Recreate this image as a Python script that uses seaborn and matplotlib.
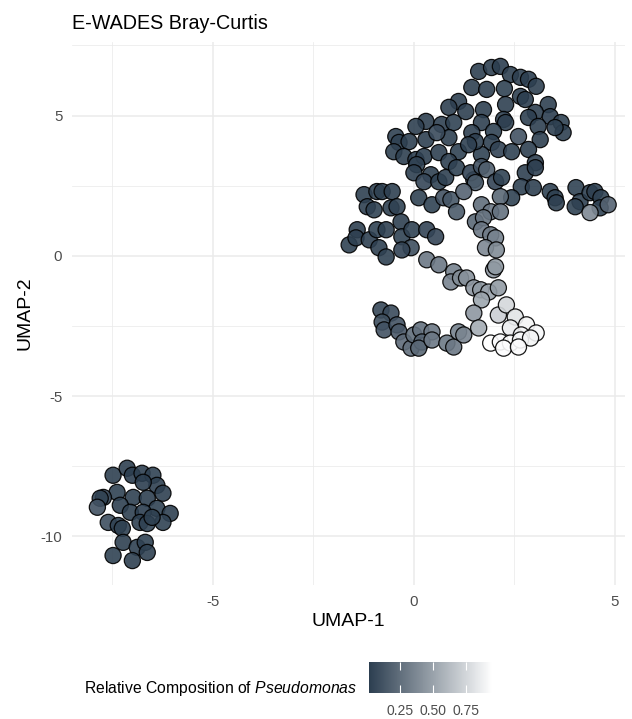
import numpy as np
import pandas as pd
import matplotlib
matplotlib.use('Agg')
import matplotlib.pyplot as plt
import seaborn as sns
from matplotlib.colors import LinearSegmentedColormap, Normalize
from matplotlib.cm import ScalarMappable

# UMAP coordinates and relative composition of Pseudomonas
# small cluster, lower left
umap1_left = [-7.48, -7.13, -7.00, -6.76, -6.49, -6.39, -6.24, -6.73, -7.38, -7.72,
              -7.80, -7.87, -6.98, -6.63, -6.39, -6.06, -6.24, -7.30, -7.05, -6.73,
              -7.60, -7.35, -7.25, -6.81, -6.63, -7.23, -6.88, -6.68, -6.63, -7.48,
              -7.00, -6.51]
umap2_left = [-7.82, -7.57, -7.82, -7.75, -7.82, -8.18, -8.46, -8.07, -8.43, -8.61,
              -8.64, -8.96, -8.61, -8.64, -9.00, -9.18, -9.50, -8.89, -9.14, -9.14,
              -9.50, -9.61, -9.71, -9.50, -9.54, -10.21, -10.39, -10.21, -10.57, -10.68,
              -10.86, -9.32]
comp_left = [0.03, 0.03, 0.02, 0.03, 0.04, 0.03, 0.03, 0.02, 0.04, 0.05,
             0.04, 0.12, 0.03, 0.03, 0.04, 0.03, 0.04, 0.03, 0.03, 0.02,
             0.10, 0.04, 0.03, 0.03, 0.04, 0.03, 0.03, 0.04, 0.03, 0.04,
             0.03, 0.03]

# big cluster, upper right
umap1_main = [1.61, 1.93, 2.15, 2.40, 2.65, 2.85, 3.04, 1.44, 1.81, 2.25,
              2.65, 2.77, 3.34, 2.28, 1.73, 3.02, 2.85, 3.39, 3.66, 3.71,
              3.09, 3.51, 2.23, 2.28, 1.68, 1.98, 1.44, 2.60, 3.14, 1.93,
              2.10, 2.43, 2.85, 1.68, 1.53, 3.02,
              1.11, 0.87, 1.29, 0.30, 0.05, 0.69, 0.99, -0.45, -0.37, -0.12,
              0.30, 0.87, 0.57, -0.50, -0.25, 0.05, 0.25, 0.62, 1.11, 1.36,
              0.87,
              0.07, 0.00, 0.42, 0.25, 0.62, 0.79, 1.06, 1.49, 1.41, 1.68,
              1.81, 1.53, 2.03, 2.18, 2.77, 3.02, 2.67, 2.97, 3.39, 3.51,
              3.54, 2.43, 2.15, 1.68, 1.91, 2.15, 1.53, 1.73, 1.68, 1.91,
              2.03, 1.78, 2.05,
              4.03, 4.13, 4.01, 4.38, 4.50, 4.65, 4.63, 4.83, 4.38,
              -1.24, -0.92, -0.79, -0.54, -1.16, -0.99, -0.57, -0.42, -0.32, 0.12,
              0.45, 0.74, 0.92, 1.06, 1.24,
              -1.41, -1.61, -1.44, -1.11, -0.92, -0.69, -0.87, -0.30, -0.05, 0.32,
              0.54, -0.07, -0.30, -0.69]
umap2_main = [6.57, 6.71, 6.75, 6.46, 6.36, 6.29, 6.04, 6.00, 5.93, 5.96,
              5.68, 5.57, 5.39, 5.39, 5.21, 5.11, 4.93, 4.96, 4.75, 4.39,
              4.61, 4.57, 4.86, 4.75, 4.75, 4.43, 4.39, 4.25, 4.14, 4.04,
              3.79, 3.71, 3.79, 3.61, 4.07, 3.32,
              5.50, 5.29, 5.14, 4.79, 4.61, 4.68, 4.75, 4.25, 4.04, 4.07,
              4.14, 4.21, 4.39, 3.71, 3.54, 3.43, 3.54, 3.68, 3.71, 3.96,
              3.36,
              3.25, 2.96, 2.89, 2.64, 2.64, 2.79, 3.14, 2.71, 2.96, 3.18,
              3.07, 2.61, 2.64, 2.79, 2.96, 3.14, 2.46, 2.43, 2.29, 2.07,
              1.89, 2.07, 2.11, 1.82, 1.57, 1.57, 1.21, 1.36, 0.93, 0.75,
              0.64, 0.29, 0.21,
              2.43, 1.93, 1.75, 2.25, 2.29, 2.07, 1.71, 1.82, 1.54,
              2.18, 2.29, 2.29, 2.29, 1.75, 1.64, 1.71, 1.75, 1.21, 2.07,
              1.82, 2.07, 2.00, 1.57, 2.29,
              0.93, 0.39, 0.64, 0.57, 0.93, 0.93, 0.29, 0.68, 0.93, 0.93,
              0.68, 0.29, 0.21, -0.04]
comp_main = [0.03, 0.03, 0.02, 0.03, 0.03, 0.02, 0.03, 0.03, 0.03, 0.04,
             0.03, 0.02, 0.03, 0.03, 0.03, 0.03, 0.03, 0.02, 0.04, 0.03,
             0.03, 0.03, 0.03, 0.03, 0.03, 0.04, 0.03, 0.12, 0.03, 0.03,
             0.05, 0.04, 0.03, 0.04, 0.03, 0.03,
             0.03, 0.03, 0.03, 0.03, 0.03, 0.03, 0.04, 0.03, 0.04, 0.03,
             0.03, 0.03, 0.08, 0.04, 0.03, 0.03, 0.03, 0.03, 0.04, 0.03,
             0.03,
             0.04, 0.03, 0.03, 0.06, 0.04, 0.03, 0.04, 0.10, 0.05, 0.12,
             0.18, 0.16, 0.05, 0.04, 0.03, 0.03, 0.04, 0.03, 0.04, 0.03,
             0.03, 0.04, 0.22, 0.25, 0.30, 0.27, 0.22, 0.28, 0.30, 0.32,
             0.35, 0.38, 0.40,
             0.04, 0.03, 0.04, 0.03, 0.03, 0.04, 0.04, 0.20, 0.38,
             0.03, 0.04, 0.03, 0.03, 0.03, 0.04, 0.03, 0.04, 0.03, 0.04,
             0.04, 0.12, 0.14, 0.16, 0.20,
             0.03, 0.04, 0.03, 0.03, 0.04, 0.03, 0.03, 0.04, 0.04, 0.05,
             0.06, 0.10, 0.05, 0.04]

# arc and lighter group below
umap1_low = [0.32, 0.62, 0.99, 0.92, 1.16, 1.31, 1.49, 1.66, 1.86, 2.10,
             1.68, 1.98, 2.03, 1.49, 1.61, 2.10, 2.30, 2.52, 2.40, 2.80,
             3.04, 2.67, 1.91, 2.15, 2.40, 2.65, 2.90, 2.23, 2.60,
             -0.82, -0.57, -0.79, -0.74, -0.42, -0.37, -0.25, -0.07, 0.00, 0.17,
             0.45, 0.20, 0.12, 0.45, 0.82, 0.99, 1.11, 1.24]
umap2_low = [-0.14, -0.32, -0.57, -0.93, -0.79, -0.79, -1.14, -1.21, -1.29, -1.14,
             -1.57, -0.50, -0.39, -2.04, -2.57, -2.11, -1.75, -2.18, -2.57, -2.46,
             -2.75, -2.82, -3.11, -3.07, -3.11, -3.00, -2.93, -3.29, -3.25,
             -1.93, -2.04, -2.36, -2.64, -2.46, -2.71, -3.07, -3.29, -2.82, -2.64,
             -2.71, -3.07, -3.29, -3.00, -3.11, -3.25, -2.71, -2.82]
comp_low = [0.30, 0.30, 0.35, 0.36, 0.40, 0.42, 0.45, 0.46, 0.50, 0.47,
            0.52, 0.45, 0.46, 0.45, 0.55, 0.72, 0.76, 0.82, 0.86, 0.90,
            0.92, 0.90, 0.95, 0.93, 0.95, 0.92, 0.90, 0.94, 0.93,
            0.07, 0.08, 0.10, 0.12, 0.12, 0.15, 0.24, 0.26, 0.25, 0.27,
            0.30, 0.21, 0.22, 0.30, 0.31, 0.30, 0.35, 0.36]

df = pd.DataFrame({
    'UMAP-1': umap1_left + umap1_main + umap1_low,
    'UMAP-2': umap2_left + umap2_main + umap2_low,
    'comp': comp_left + comp_main + comp_low,
})

plt.rcParams['font.family'] = ['Liberation Sans', 'DejaVu Sans']
plt.rcParams['axes.unicode_minus'] = False
plt.rcParams['mathtext.fontset'] = 'custom'
plt.rcParams['mathtext.rm'] = 'Liberation Sans'
plt.rcParams['mathtext.it'] = 'Liberation Sans:italic'

cmap = LinearSegmentedColormap.from_list('slate', ['#2C3E50', '#FFFFFF'])
vmin, vmax = df['comp'].min(), df['comp'].max()

fig = plt.figure(figsize=(6.32, 7.19), dpi=100)
ax = fig.add_axes([0.114, 0.186, 0.875, 0.756])

sns.scatterplot(data=df, x='UMAP-1', y='UMAP-2', hue='comp', palette=cmap,
                hue_norm=(vmin, vmax), s=135, edgecolor='black', linewidth=0.9,
                alpha=0.9, legend=False, ax=ax)

ax.set_xlim(-8.5, 5.25)
ax.set_ylim(-11.74, 7.63)
ax.set_xticks([-5, 0, 5])
ax.set_yticks([-10, -5, 0, 5])
ax.set_xticks([-7.5, -2.5, 2.5], minor=True)
ax.set_yticks([-7.5, -2.5, 2.5, 7.5], minor=True)
ax.grid(True, which='major', color='#EBEBEB', linewidth=1.1)
ax.grid(True, which='minor', color='#EBEBEB', linewidth=0.55)
ax.set_axisbelow(True)
for sp in ax.spines.values():
    sp.set_visible(False)
ax.tick_params(which='both', length=0, labelsize=10.8, labelcolor='#4D4D4D', pad=7)
ax.set_xlabel('UMAP-1', fontsize=14, labelpad=3)
ax.set_ylabel('UMAP-2', fontsize=14, labelpad=5)
ax.set_title('E-WADES Bray-Curtis', loc='left', fontsize=14.2, pad=9)

# colourbar at the bottom
cax = fig.add_axes([0.584, 0.036, 0.195, 0.043])
sm = ScalarMappable(norm=Normalize(vmin, vmax), cmap=cmap)
cb = fig.colorbar(sm, cax=cax, orientation='horizontal')
cb.outline.set_visible(False)
cb.set_ticks([0.25, 0.5, 0.75])
cb.set_ticklabels(['0.25', '0.50', '0.75'])
cax.tick_params(direction='in', length=6, width=0.8, color='white',
                top=True, bottom=True, labelsize=10, labelcolor='#4D4D4D', pad=8)
fig.text(0.565, 0.043, r'Relative Composition of $\mathit{Pseudomonas}$',
         ha='right', va='center', fontsize=11.3)

fig.savefig('out.png', dpi=100)
